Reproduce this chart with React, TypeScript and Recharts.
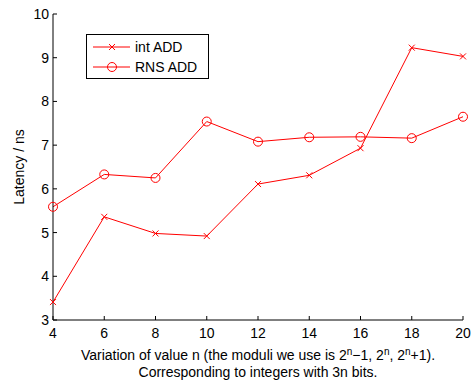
import React from 'react';
import { LineChart, Line, XAxis, YAxis, Legend } from 'recharts';

// n values and measured latencies (ns)
const nValues = [4, 6, 8, 10, 12, 14, 16, 18, 20];
const intAdd = [3.41, 5.36, 4.98, 4.92, 6.11, 6.31, 6.93, 9.23, 9.03];
const rnsAdd = [5.59, 6.33, 6.25, 7.54, 7.08, 7.18, 7.19, 7.16, 7.65];
const xTicks = [4, 6, 8, 10, 12, 14, 16, 18, 20];
const yTicks = [3, 4, 5, 6, 7, 8, 9, 10];

const data = nValues.map((n, i) => ({ n, intAdd: intAdd[i], rnsAdd: rnsAdd[i] }));

const FONT = '"Liberation Sans", Arial, Helvetica, sans-serif';
const RED = '#ff0000';

const BottomTick = ({ x, y, payload }: any) => (
  <g>
    <line x1={x} x2={x} y1={y} y2={y - 4} stroke="#000" />
    <text x={x} y={y + 18} textAnchor="middle" fontSize={14} fill="#000" fontFamily={FONT}>
      {payload.value}
    </text>
  </g>
);

const LeftTick = ({ x, y, payload }: any) => (
  <g>
    <line x1={x} x2={x + 4} y1={y} y2={y} stroke="#000" />
    <text x={x - 4} y={y + 5} textAnchor="end" fontSize={14} fill="#000" fontFamily={FONT}>
      {payload.value}
    </text>
  </g>
);

const TopTick = ({ x, y }: any) => <line x1={x} x2={x} y1={y} y2={y + 4} stroke="#000" />;
const RightTick = ({ x, y }: any) => <line x1={x} x2={x - 4} y1={y} y2={y} stroke="#000" />;

const Cross = (props: any) => {
  const { cx, cy, index } = props;
  if (cx == null || cy == null) return <g key={`x-${index}`} />;
  const s = 3;
  return (
    <path
      key={`x-${index}`}
      d={`M${cx - s},${cy - s}L${cx + s},${cy + s}M${cx - s},${cy + s}L${cx + s},${cy - s}`}
      stroke={RED}
      strokeWidth={1}
      fill="none"
    />
  );
};

const XLabel = () => (
  <g fontFamily={FONT} fontSize={14} fill="#000">
    <text x={258} y={360} textAnchor="middle">
      Variation of value n (the moduli we use is 2<tspan dy={-5} fontSize={10}>n</tspan>
      <tspan dy={5}>−1, 2</tspan><tspan dy={-5} fontSize={10}>n</tspan>
      <tspan dy={5}>, 2</tspan><tspan dy={-5} fontSize={10}>n</tspan>
      <tspan dy={5}>+1).</tspan>
    </text>
    <text x={258} y={377} textAnchor="middle">
      Corresponding to integers with 3n bits.
    </text>
  </g>
);

const LegendBox = () => (
  <div
    style={{
      width: 123,
      height: 45,
      boxSizing: 'border-box',
      border: '1px solid #000',
      background: '#fff',
    }}
  >
    <svg width={121} height={43} style={{ display: 'block' }}>
      <line x1={6} x2={43} y1={12} y2={12} stroke={RED} />
      <Cross cx={25} cy={12} index={0} />
      <text x={48} y={17} fontSize={14} fontFamily={FONT} fill="#000">int ADD</text>
      <line x1={6} x2={43} y1={32} y2={32} stroke={RED} />
      <circle cx={25} cy={32} r={4.5} stroke={RED} fill="none" />
      <text x={48} y={37} fontSize={14} fontFamily={FONT} fill="#000">RNS ADD</text>
    </svg>
  </div>
);

export default function App() {
  return (
    <div style={{ position: 'absolute', left: 0, top: 0, width: 472, height: 385, background: '#fff', fontFamily: FONT }}>
      <LineChart width={472} height={385} data={data} margin={{ top: 14, right: 9, left: 13, bottom: 35 }}>
        <XAxis
          dataKey="n"
          type="number"
          domain={[4, 20]}
          ticks={xTicks}
          height={30}
          tickSize={0}
          tickMargin={0}
          tickLine={false}
          axisLine={{ stroke: '#000' }}
          tick={<BottomTick />}
          label={<XLabel />}
        />
        <XAxis
          xAxisId="top"
          orientation="top"
          dataKey="n"
          type="number"
          domain={[4, 20]}
          ticks={xTicks}
          height={0}
          tickSize={0}
          tickMargin={0}
          tickLine={false}
          axisLine={{ stroke: '#000' }}
          tick={<TopTick />}
        />
        <YAxis
          type="number"
          domain={[3, 10]}
          ticks={yTicks}
          width={40}
          tickSize={0}
          tickMargin={0}
          tickLine={false}
          axisLine={{ stroke: '#000' }}
          tick={<LeftTick />}
          label={{ value: 'Latency / ns', angle: -90, position: 'insideLeft', offset: 0, dx: 6, style: { fontSize: 14, fill: '#000', fontFamily: FONT, textAnchor: 'middle' } }}
        />
        <YAxis
          yAxisId="right"
          orientation="right"
          type="number"
          domain={[3, 10]}
          ticks={yTicks}
          width={0}
          tickSize={0}
          tickMargin={0}
          tickLine={false}
          axisLine={{ stroke: '#000' }}
          tick={<RightTick />}
        />
        <Legend
          layout="vertical"
          align="center"
          verticalAlign="middle"
          wrapperStyle={{ left: 86, top: 34, width: 123, height: 45 }}
          content={() => <LegendBox />}
        />
        <Line
          type="linear"
          dataKey="intAdd"
          name="int ADD"
          stroke={RED}
          strokeWidth={1}
          dot={(p: any) => <Cross {...p} />}
          isAnimationActive={false}
        />
        <Line
          type="linear"
          dataKey="rnsAdd"
          name="RNS ADD"
          stroke={RED}
          strokeWidth={1}
          dot={{ r: 4.5, stroke: RED, strokeWidth: 1, fill: 'none' }}
          isAnimationActive={false}
        />
      </LineChart>
    </div>
  );
}
